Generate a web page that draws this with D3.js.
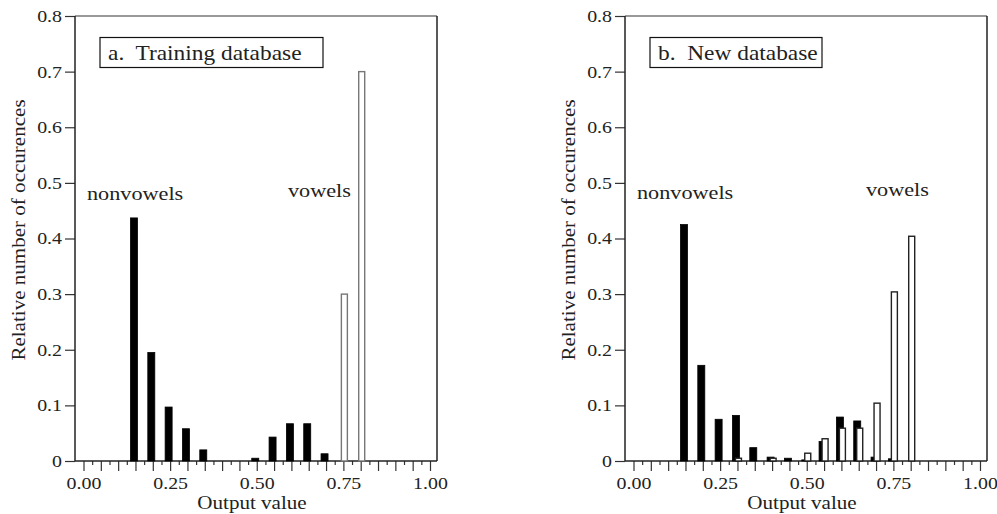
<!DOCTYPE html>
<html>
<head>
<meta charset="utf-8">
<script src="https://cdn.jsdelivr.net/npm/d3@7"></script>
<style>
  body { margin: 0; background: #fff; }
  text { font-family: "Liberation Serif", "DejaVu Serif", serif; fill: #222; }
</style>
</head>
<body>
<svg id="chart" width="997" height="514"></svg>
<script>
// bin centres of the histogram (output value)
var bins = [0.15, 0.20, 0.25, 0.30, 0.35, 0.40, 0.45, 0.50, 0.55, 0.60, 0.65, 0.70, 0.75, 0.80];

// relative number of occurences per bin
var trainNonvowels = [0.437, 0.195, 0.097, 0.058, 0.020, 0, 0, 0.005, 0.043, 0.067, 0.067, 0.013, 0, 0];
var trainVowels    = [0, 0, 0, 0, 0, 0, 0, 0, 0, 0, 0, 0, 0.300, 0.700];
var newNonvowels   = [0.425, 0.172, 0.075, 0.082, 0.024, 0.007, 0.005, 0.002, 0.035, 0.079, 0.072, 0.007, 0.004, 0];
var newVowels      = [0, 0, 0, 0.005, 0, 0.005, 0, 0.014, 0.040, 0.059, 0.059, 0.104, 0.304, 0.404];

var yTicks = [0, 0.1, 0.2, 0.3, 0.4, 0.5, 0.6, 0.7, 0.8];
var xTicks = d3.range(0, 41).map(function(i) { return i * 0.025; });
var xLabels = [0, 0.25, 0.5, 0.75, 1];

var panelTitles = ['a.  Training database', 'b.  New database'];

var svg = d3.select('#chart');
var sx = 1.17; // the serif in the original is a bit wider than Times

var frame = {left: 75, right: 437, top: 16, bottom: 461};

var x = d3.scaleLinear().domain([0, 1]).range([83.5, 430]);
var y = d3.scaleLinear().domain([0, 0.8]).range([frame.bottom, frame.top]);

function label(g, px, py, str, size, anchor) {
    return g.append('text')
        .attr('transform', 'translate(' + px + ',' + py + ') scale(' + sx + ',1)')
        .attr('text-anchor', anchor || 'start')
        .style('font-size', size + 'px')
        .style('white-space', 'pre')
        .text(str);
}

var panels = [
    {title: panelTitles[0], non: trainNonvowels, vow: trainVowels, boxW: 223, vowX: 288, vowY: 197, vowStroke: '#777'},
    {title: panelTitles[1], non: newNonvowels, vow: newVowels, boxW: 172, vowX: 316, vowY: 196, vowStroke: '#222'}
];

panels.forEach(function(p, k) {
    var g = svg.append('g').attr('transform', 'translate(' + (k * 550) + ',0)');

    // y axis
    var yAxis = g.append('g')
        .attr('transform', 'translate(' + frame.left + ',0)')
        .call(d3.axisLeft(y).tickValues(yTicks).tickSize(10).tickPadding(3)
            .tickFormat(function(d) { return d === 0 ? '0' : d3.format('.1f')(d); }));
    yAxis.select('.domain').remove();
    yAxis.selectAll('line').attr('stroke', '#333').attr('stroke-width', 1.2);
    yAxis.selectAll('text')
        .attr('x', -13 / sx)
        .attr('transform', 'scale(' + sx + ',1)')
        .style('font-family', '"Liberation Serif", serif')
        .style('font-size', '17px')
        .attr('fill', '#222');

    // x axis
    var xAxis = g.append('g')
        .attr('transform', 'translate(0,' + frame.bottom + ')')
        .call(d3.axisBottom(x).tickValues(xTicks).tickSize(10).tickPadding(6)
            .tickFormat(function(d) {
                return xLabels.some(function(v) { return Math.abs(v - d) < 1e-6; }) ? d3.format('.2f')(d) : '';
            }));
    xAxis.select('.domain').remove();
    xAxis.selectAll('line')
        .attr('stroke', '#333').attr('stroke-width', 1.2)
        .attr('y2', function(d, i) { return i % 2 === 0 ? 10 : 4; });
    xAxis.selectAll('text')
        .attr('transform', 'scale(' + sx + ',1)')
        .style('font-family', '"Liberation Serif", serif')
        .style('font-size', '17px')
        .attr('fill', '#222');

    // frame
    g.append('line').attr('x1', frame.left).attr('x2', frame.right).attr('y1', frame.top).attr('y2', frame.top)
        .attr('stroke', '#777').attr('stroke-width', 1.5);
    g.append('line').attr('x1', frame.right).attr('x2', frame.right).attr('y1', frame.top).attr('y2', frame.bottom)
        .attr('stroke', '#222').attr('stroke-width', 1.5);
    g.append('line').attr('x1', frame.left).attr('x2', frame.left).attr('y1', frame.top).attr('y2', frame.bottom)
        .attr('stroke', '#222').attr('stroke-width', 1.5);
    g.append('line').attr('x1', frame.left).attr('x2', frame.right).attr('y1', frame.bottom).attr('y2', frame.bottom)
        .attr('stroke', '#222').attr('stroke-width', 1.5);

    // nonvowel bars (black)
    g.selectAll('.bar-non')
        .data(bins.map(function(b, i) { return {b: b, v: p.non[i]}; }).filter(function(d) { return d.v > 0; }))
        .enter()
        .append('rect')
        .attr('class', 'bar-non')
        .attr('x', function(d) { return x(d.b) - 5; })
        .attr('y', function(d) { return y(d.v); })
        .attr('width', 7)
        .attr('height', function(d) { return y(0) - y(d.v); })
        .style('fill', '#000')
        .style('stroke', '#000')
        .style('stroke-width', 0.8);

    // vowel bars (white, drawn on top)
    g.selectAll('.bar-vow')
        .data(bins.map(function(b, i) { return {b: b, v: p.vow[i]}; }).filter(function(d) { return d.v > 0; }))
        .enter()
        .append('rect')
        .attr('class', 'bar-vow')
        .attr('x', function(d) { return x(d.b) - 2; })
        .attr('y', function(d) { return y(d.v); })
        .attr('width', 6)
        .attr('height', function(d) { return y(0) - y(d.v); })
        .style('fill', '#fff')
        .style('stroke', p.vowStroke)
        .style('stroke-width', 1.4);

    // panel title box
    g.append('rect')
        .attr('x', 100).attr('y', 37.5)
        .attr('width', p.boxW).attr('height', 30)
        .style('fill', '#fff')
        .style('stroke', '#111')
        .style('stroke-width', 1.2);
    label(g, 108, 60, p.title, 20);

    label(g, 87, k === 0 ? 200 : 199, 'nonvowels', 19);
    label(g, p.vowX, p.vowY, 'vowels', 19);

    // axis titles
    label(g, 252, 509, 'Output value', 18, 'middle');
    g.append('text')
        .attr('transform', 'translate(25,230) rotate(-90) scale(' + sx + ',1)')
        .attr('text-anchor', 'middle')
        .style('font-size', '18px')
        .text('Relative number of occurences');
});
</script>
</body>
</html>
